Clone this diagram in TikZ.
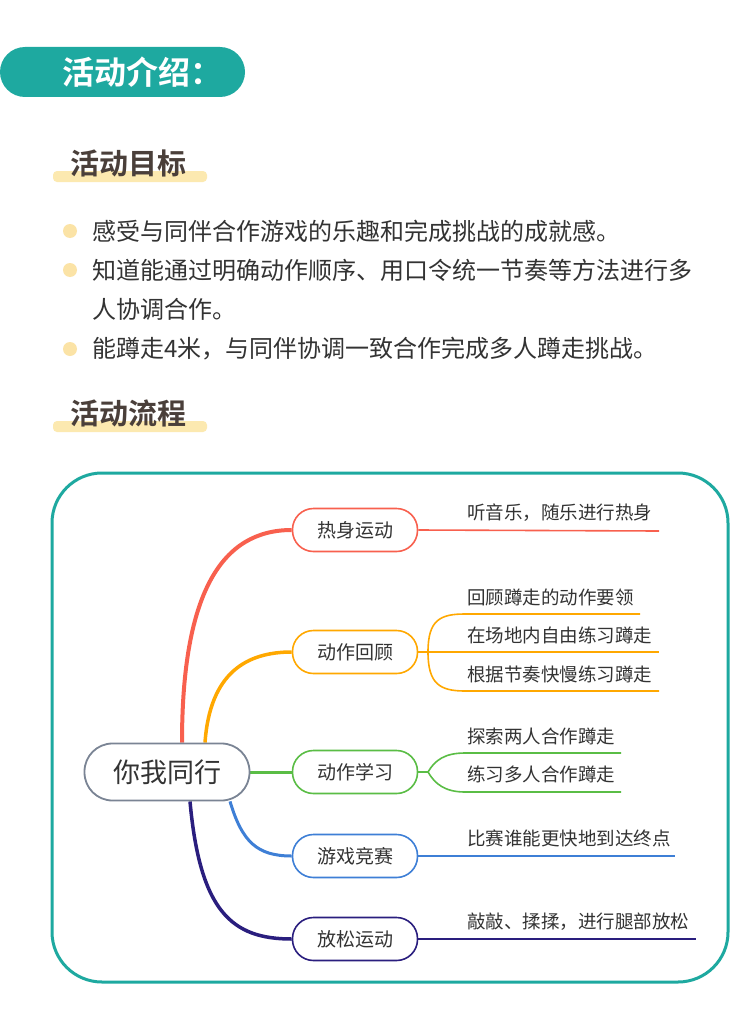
\documentclass[tikz,border=0pt]{standalone}
\usepackage{fontspec}
\setmainfont{Noto Sans CJK SC}
\newfontfamily\cjkbold{Noto Sans CJK SC Bold}
\definecolor{teal}{HTML}{1EA9A0}
\definecolor{hilite}{HTML}{FCE9B0}
\definecolor{dot}{HTML}{FBE3A6}
\definecolor{ink}{HTML}{333333}
\definecolor{head}{HTML}{4A3F3A}
\definecolor{cred}{HTML}{F8604E}
\definecolor{corange}{HTML}{FFA800}
\definecolor{cgreen}{HTML}{5ABD45}
\definecolor{cblue}{HTML}{3E7FD6}
\definecolor{cpurple}{HTML}{2A1E7E}
\definecolor{cgray}{HTML}{7A8494}
\pgfdeclarelayer{back}
\pgfdeclarelayer{paper}
\pgfsetlayers{paper,back,main}
\tikzset{
  branch/.style={draw=#1, line width=1.6pt, rounded corners=21pt, minimum width=125pt,
    minimum height=43pt, fill=white, font=\fontsize{19}{19}\selectfont, text=ink},
  rootbox/.style={draw=cgray, line width=1.8pt, rounded corners=28pt, minimum width=165pt,
    minimum height=57pt, fill=white, font=\fontsize{27}{27}\selectfont, text=ink},
  leaf/.style={anchor=west, font=\fontsize{18.5}{18.5}\selectfont, text=ink, inner sep=0pt},
  bullet/.style={anchor=west, font=\fontsize{24}{24}\selectfont, text=ink, inner sep=0pt},
  heading/.style={anchor=west, font=\cjkbold\fontsize{29}{29}\selectfont, text=head, inner sep=0pt}
}
\begin{document}
\begin{tikzpicture}[x=1pt, y=-1pt]
  \begin{pgfonlayer}{paper}
  \useasboundingbox[fill=white] (0,0) rectangle (700,1030);
  \end{pgfonlayer}
  % title banner
  \fill[teal, rounded corners=25pt] (-40,47) rectangle (205,97);
  \node[anchor=west, font=\cjkbold\fontsize{32}{32}\selectfont, text=white, inner sep=0pt] (title) at (22,72) {活动介绍：};
  % goals
  \fill[hilite, rounded corners=4pt] (13,171) rectangle (167,182);
  \node[heading] (goals) at (30,163) {活动目标};
  \foreach \y in {231,270,349} \fill[dot] (30,\y) circle[radius=7];
  \node[bullet] (g1) at (52,231) {感受与同伴合作游戏的乐趣和完成挑战的成就感。};
  \node[bullet] (g2) at (52,270) {知道能通过明确动作顺序、用口令统一节奏等方法进行多};
  \node[bullet] (g3) at (52,309) {人协调合作。};
  \node[bullet] (g4) at (52,349) {能蹲走4米，与同伴协调一致合作完成多人蹲走挑战。};
  % process
  \fill[hilite, rounded corners=4pt] (13,421) rectangle (167,432);
  \node[heading] (flow) at (30,413) {活动流程};
  \draw[teal, line width=3pt, rounded corners=50pt] (12,473) rectangle (688,982);
  % mind map
  \node[rootbox] (root) at (127,772) {你我同行};
  \node[branch=cred] (warm) at (315,530) {热身运动};
  \node[branch=corange] (review) at (315,652) {动作回顾};
  \node[branch=cgreen] (learn) at (315,772) {动作学习};
  \node[branch=cblue] (game) at (315,856) {游戏竞赛};
  \node[branch=cpurple] (relax) at (315,939) {放松运动};
  \begin{pgfonlayer}{back}
  \draw[cred, line width=4pt] ([xshift=15pt]root.north) .. controls +(0,-150) and +(-70,0) .. (warm.west);
  \draw[corange, line width=3.5pt] ([xshift=38pt]root.north) .. controls +(5,-70) and +(-45,0) .. (review.west);
  \draw[cgreen, line width=3pt] (root.east) -- (learn.west);
  \draw[cblue, line width=3pt] ([xshift=63pt]root.south) .. controls +(12,40) and +(-35,0) .. (game.west);
  \draw[cpurple, line width=3.5pt] ([xshift=23pt]root.south) .. controls +(10,110) and +(-60,0) .. (relax.west);
  \end{pgfonlayer}
  % leaves
  \node[leaf] (w1) at (427,513) {听音乐，随乐进行热身};
  \node[leaf] (r1) at (427,597) {回顾蹲走的动作要领};
  \node[leaf] (r2) at (427,635) {在场地内自由练习蹲走};
  \node[leaf] (r3) at (427,674) {根据节奏快慢练习蹲走};
  \node[leaf] (l1) at (427,736) {探索两人合作蹲走};
  \node[leaf] (l2) at (427,774) {练习多人合作蹲走};
  \node[leaf] (c1) at (427,838) {比赛谁能更快地到达终点};
  \node[leaf] (x1) at (427,922) {敲敲、揉揉，进行腿部放松};
  \coordinate (rf) at (388,652);
  \coordinate (lf) at (388,772);
  \draw[cred, line width=1.6pt] (warm.east) -- (619,531);
  \draw[corange, line width=1.6pt] (review.east) -- (rf) -- (619,652);
  \draw[corange, line width=1.6pt] (rf) .. controls (388,620) and (400,614) .. (425,614) -- (600,614);
  \draw[corange, line width=1.6pt] (rf) .. controls (388,684) and (400,691) .. (425,691) -- (619,691);
  \draw[cgreen, line width=1.6pt] (learn.east) -- (lf);
  \draw[cgreen, line width=1.6pt] (lf) .. controls (395,760) and (405,753) .. (425,753) -- (581,753);
  \draw[cgreen, line width=1.6pt] (lf) .. controls (395,784) and (405,792) .. (425,792) -- (581,792);
  \draw[cblue, line width=1.6pt] (game.east) -- (635,856);
  \draw[cpurple, line width=1.6pt] (relax.east) -- (656,939);
\end{tikzpicture}
\end{document}
